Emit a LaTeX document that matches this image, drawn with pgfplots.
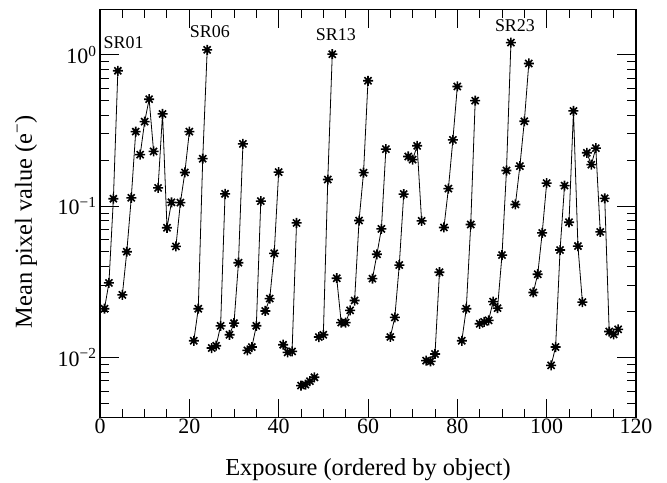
\documentclass[border=0pt]{standalone}
\usepackage{fontspec}
\setmainfont{Liberation Serif}
\usepackage{pgfplots}
\pgfplotsset{compat=1.18}

% eight-armed asterisk like the original plotting package
\pgfdeclareplotmark{ast8}{%
  \pgfpathmoveto{\pgfqpoint{-\pgfplotmarksize}{0pt}}%
  \pgfpathlineto{\pgfqpoint{\pgfplotmarksize}{0pt}}%
  \pgfpathmoveto{\pgfqpoint{0pt}{-\pgfplotmarksize}}%
  \pgfpathlineto{\pgfqpoint{0pt}{\pgfplotmarksize}}%
  \pgfpathmoveto{\pgfqpoint{-0.707\pgfplotmarksize}{-0.707\pgfplotmarksize}}%
  \pgfpathlineto{\pgfqpoint{0.707\pgfplotmarksize}{0.707\pgfplotmarksize}}%
  \pgfpathmoveto{\pgfqpoint{-0.707\pgfplotmarksize}{0.707\pgfplotmarksize}}%
  \pgfpathlineto{\pgfqpoint{0.707\pgfplotmarksize}{-0.707\pgfplotmarksize}}%
  \pgfusepathqstroke}

\tikzset{
  obj/.style={black, line width=0.8bp, mark=ast8, mark size=5bp,
    mark options={line width=1.6bp, black}},
}

\begin{document}
\begin{tikzpicture}
\begin{axis}[
  at={(0,0)}, anchor=south west,
  width=536bp, height=408.4bp, scale only axis,
  xmin=0, xmax=120,
  ymode=log, ymin=0.004, ymax=2,
  xtick={0,20,...,120}, minor x tick num=3,
  ytick={0.01,0.1,1},
  yticklabels={10\textsuperscript{−2},10\textsuperscript{−1},10\textsuperscript{0}},
  minor ytick={0.004,0.005,0.006,0.007,0.008,0.009,0.02,0.03,0.04,0.05,0.06,0.07,0.08,0.09,0.2,0.3,0.4,0.5,0.6,0.7,0.8,0.9,2},
  /pgf/number format/assume math mode=true,
  major tick length=19bp, minor tick length=9bp,
  tick style={line width=1bp, black},
  axis line style={line width=1.2bp},
  tick label style={font=\fontsize{22}{26}\selectfont},
  label style={font=\fontsize{24.5}{28}\selectfont},
  xlabel={Exposure (ordered by object)},
  ylabel={Mean pixel value (e\textsuperscript{−})},
  xlabel style={at={(axis description cs:0.5,-0.127)}, anchor=center},
  ylabel style={at={(axis description cs:-0.138,0.48)}, anchor=center, rotate=0},
  xticklabel style={yshift=2bp},
  clip=false,
]
\addplot[obj] coordinates {(1,0.0210)(2,0.0311)(3,0.112)(4,0.785)};
\addplot[obj] coordinates {(5,0.0259)(6,0.050)(7,0.1135)(8,0.311)};
\addplot[obj] coordinates {(9,0.219)(10,0.362)(11,0.509)(12,0.230)};
\addplot[obj] coordinates {(13,0.132)(14,0.407)(15,0.072)(16,0.106)};
\addplot[obj] coordinates {(17,0.0542)(18,0.1056)(19,0.167)(20,0.311)};
\addplot[obj] coordinates {(21,0.0129)(22,0.0210)(23,0.206)(24,1.079)};
\addplot[obj] coordinates {(25,0.01155)(26,0.01196)(27,0.01619)(28,0.1207)};
\addplot[obj] coordinates {(29,0.01413)(30,0.01687)(31,0.0423)(32,0.258)};
\addplot[obj] coordinates {(33,0.01114)(34,0.01173)(35,0.0162)(36,0.108)};
\addplot[obj] coordinates {(37,0.0203)(38,0.0245)(39,0.0488)(40,0.168)};
\addplot[obj] coordinates {(41,0.01214)(42,0.0108)(43,0.01097)(44,0.0775)};
\addplot[obj] coordinates {(45,0.00652)(46,0.00662)(47,0.00697)(48,0.0074)};
\addplot[obj] coordinates {(49,0.01365)(50,0.01413)(51,0.150)(52,1.01)};
\addplot[obj] coordinates {(53,0.0334)(54,0.0170)(55,0.0170)(56,0.0205)};
\addplot[obj] coordinates {(57,0.0238)(58,0.0804)(59,0.1665)(60,0.674)};
\addplot[obj] coordinates {(61,0.0332)(62,0.0481)(63,0.0708)(64,0.238)};
\addplot[obj] coordinates {(65,0.01366)(66,0.0184)(67,0.0408)(68,0.1202)};
\addplot[obj] coordinates {(69,0.213)(70,0.203)(71,0.2506)(72,0.080)};
\addplot[obj] coordinates {(73,0.00953)(74,0.00942)(75,0.01055)(76,0.0366)};
\addplot[obj] coordinates {(77,0.0723)(78,0.1306)(79,0.274)(80,0.618)};
\addplot[obj] coordinates {(81,0.0129)(82,0.0210)(83,0.0757)(84,0.498)};
\addplot[obj] coordinates {(85,0.0167)(86,0.0172)(87,0.0176)(88,0.0234)};
\addplot[obj] coordinates {(89,0.0212)(90,0.0475)(91,0.172)(92,1.205)};
\addplot[obj] coordinates {(93,0.1026)(94,0.184)(95,0.364)(96,0.877)};
\addplot[obj] coordinates {(97,0.0269)(98,0.0355)(99,0.0666)(100,0.142)};
\addplot[obj] coordinates {(101,0.00887)(102,0.01173)(103,0.0513)(104,0.1367)};
\addplot[obj] coordinates {(105,0.0783)(106,0.426)(107,0.0545)(108,0.0232)};
\addplot[obj] coordinates {(109,0.2254)(110,0.188)(111,0.2417)(112,0.0676)};
\addplot[obj] coordinates {(113,0.1127)(114,0.01485)(115,0.01419)(116,0.01535)};
\node[font=\fontsize{18}{20}\selectfont] at (axis cs:5.3,1.2) {SR01};
\node[font=\fontsize{18}{20}\selectfont] at (axis cs:24.6,1.42) {SR06};
\node[font=\fontsize{18}{20}\selectfont] at (axis cs:52.8,1.35) {SR13};
\node[font=\fontsize{18}{20}\selectfont] at (axis cs:92.9,1.55) {SR23};
\end{axis}
\pgfresetboundingbox
\path (-100bp,-65.3bp) rectangle (567bp,417.7bp);
\end{tikzpicture}
\end{document}
